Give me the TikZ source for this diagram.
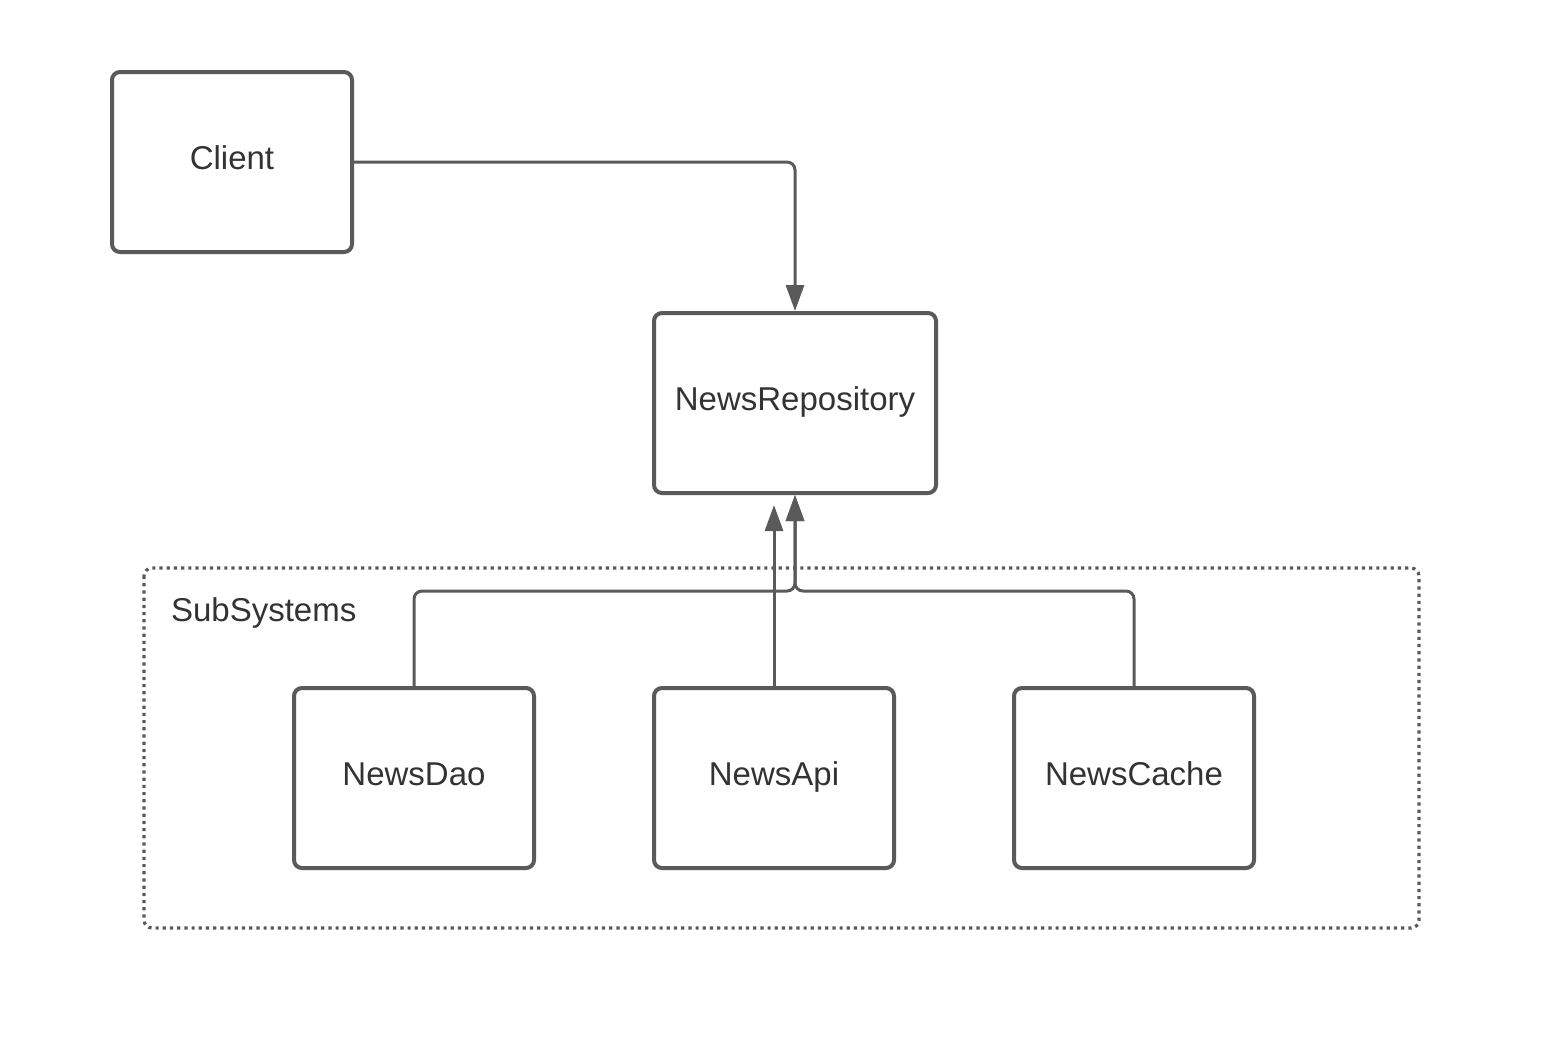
\documentclass[tikz,border=0pt]{standalone}
\usepackage{fontspec}
\setmainfont{Liberation Sans}
\usetikzlibrary{arrows.meta}
\definecolor{LineGray}{HTML}{5A5A5A}
\definecolor{TextGray}{HTML}{333333}
\begin{document}
\begin{tikzpicture}[x=0.5pt,y=-0.5pt]
\tikzset{BoxStyle/.style = {draw=LineGray,line width=2pt,rounded corners=4pt,
    minimum width=120pt,minimum height=90pt,text=TextGray,
    text height=0.9em,text depth=0.14em,
    font=\fontsize{16.5}{20}\selectfont}}
\tikzset{EdgeStyle/.style = {draw=LineGray,line width=1.5pt,rounded corners=4pt,
    -{Triangle[length=13pt,width=9pt]}}}
\tikzset{GroupStyle/.style = {draw=LineGray,line width=1.6pt,dotted,rounded corners=4pt}}
\useasboundingbox (0,0) rectangle (1556,1046);
% subsystem frame
\draw[GroupStyle] (144,568) rectangle (1419,928);
\node[anchor=west,text=TextGray,font=\fontsize{16.5}{20}\selectfont] (sub) at (164,613) {SubSystems};
% boxes
\node[BoxStyle] (client) at (232,162) {Client};
\node[BoxStyle,minimum width=141pt] (repo) at (795,403) {NewsRepository};
\node[BoxStyle] (dao) at (414,778) {NewsDao};
\node[BoxStyle] (api) at (774,778) {NewsApi};
\node[BoxStyle] (cache) at (1134,778) {NewsCache};
\coordinate (apiend) at (774,505);
% edges
\draw[EdgeStyle] (client.east) -| (repo.north);
\draw[EdgeStyle] (dao.north) |- (795,591) -- (repo.south);
\draw[EdgeStyle] (cache.north) |- (795,591) -- (repo.south);
\draw[EdgeStyle] (api.north) -- (apiend);
\end{tikzpicture}
\end{document}
